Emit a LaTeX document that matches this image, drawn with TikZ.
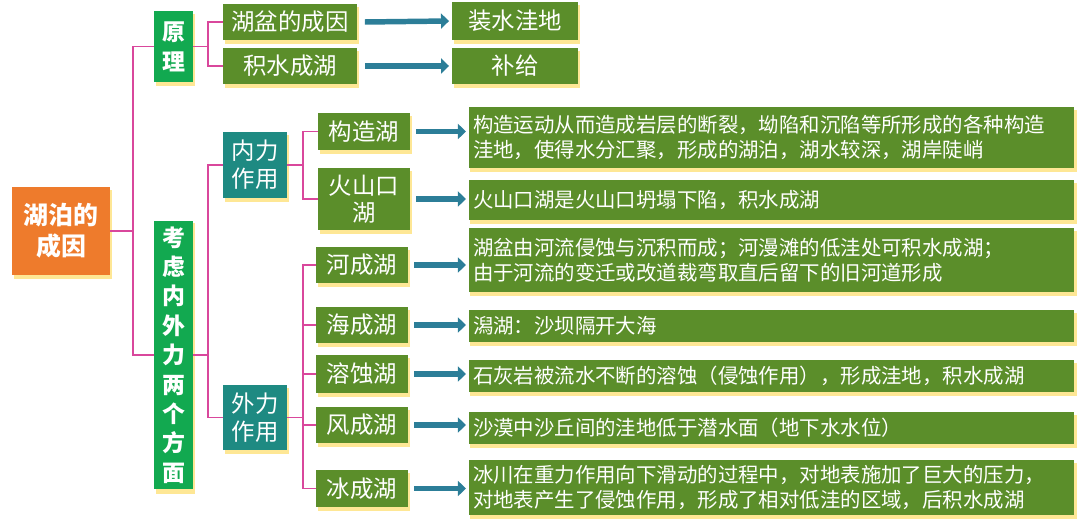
\documentclass[tikz,border=0pt]{standalone}
\usepackage{fontspec}
\setmainfont{Noto Sans CJK SC}
\usetikzlibrary{arrows.meta}
\definecolor{olive}{HTML}{5B8E2A}
\definecolor{brgreen}{HTML}{12A950}
\definecolor{tealb}{HTML}{1E8A82}
\definecolor{orng}{HTML}{EE7B2C}
\definecolor{pinkl}{HTML}{D9479C}
\definecolor{arr}{HTML}{2C7E98}
\tikzset{
 bx/.style={draw=none,inner sep=0pt,text=white,align=center},
 ol/.style={bx,fill=olive},
 ln/.style={draw=pinkl,line width=1.3pt},
 ar/.style={draw=arr,line width=5.5pt,-{Triangle[length=8bp,width=15bp]}},
}
\newcommand{\boxat}[6]{\node[#1,minimum width=#4-#2,minimum height=#5-#3] (#6) at ({(#2+#4)/2},{(#3+#5)/2})}
\begin{document}
\begin{tikzpicture}[x=1bp,y=-1bp]
\useasboundingbox (0,0) rectangle (1080,525);
% shadows
\foreach \a/\b/\c/\d in {12/187/110/275,154/11/193/82,154/220/193/490,223/4/357/40,223/48/357/84,452/2/578/40,452/48/578/84,223/132/287/198,223/385/287/450,318/113/410/150,318/168/410/230,316/247/408/283,316/307/408/343,316/355/408/393,316/407/408/443,316/470/408/507,468/107/1075/168,468/180/1075/220,468/228/1075/292,468/310/1075/342,468/360/1075/392,468/412/1075/444,468/460/1075/515}
 \fill[yellow!60!orange!40] (\a+2,\b+3) rectangle (\c+2,\d+4);
\boxat{bx,fill=orng,font=\bfseries\fontsize{25}{31}\selectfont}{12}{187}{110}{275}{root} {湖泊的\\成因};
\boxat{bx,fill=brgreen,font=\bfseries\fontsize{23}{30}\selectfont}{154}{11}{193}{82}{yl} {原\\理};
\boxat{bx,fill=brgreen,font=\bfseries\fontsize{23}{29.5}\selectfont}{154}{220}{193}{490}{kl} {考\\虑\\内\\外\\力\\两\\个\\方\\面};
\tikzset{lb/.style={ol,font=\fontsize{23.5}{27}\selectfont}}
\boxat{lb}{223}{4}{357}{40}{hp} {湖盆的成因};
\boxat{lb}{223}{48}{357}{84}{js} {积水成湖};
\boxat{lb}{452}{2}{578}{40}{zs} {装水洼地};
\boxat{lb}{452}{48}{578}{84}{bg} {补给};
\boxat{bx,fill=tealb,font=\fontsize{23.5}{28}\selectfont}{223}{132}{287}{198}{nl} {内力\\作用};
\boxat{bx,fill=tealb,font=\fontsize{23.5}{28}\selectfont}{223}{385}{287}{450}{wl} {外力\\作用};
\boxat{lb}{318}{113}{410}{150}{gz} {构造湖};
\boxat{lb}{318}{168}{410}{230}{hs} {火山口\\湖};
\boxat{lb}{316}{247}{408}{283}{hc} {河成湖};
\boxat{lb}{316}{307}{408}{343}{hh} {海成湖};
\boxat{lb}{316}{355}{408}{393}{rs} {溶蚀湖};
\boxat{lb}{316}{407}{408}{443}{fc} {风成湖};
\boxat{lb}{316}{470}{408}{507}{bc} {冰成湖};
\tikzset{dsc/.style={ol,align=left,text width=597bp,font=\fontsize{20.5}{25.5}\selectfont}}
\boxat{dsc}{468}{107}{1075}{168}{d1} {构造运动从而造成岩层的断裂，坳陷和沉陷等所形成的各种构造\\洼地，使得水分汇聚，形成的湖泊，湖水较深，湖岸陡峭};
\boxat{dsc}{468}{180}{1075}{220}{d2} {火山口湖是火山口坍塌下陷，积水成湖};
\boxat{dsc}{468}{228}{1075}{292}{d3} {湖盆由河流侵蚀与沉积而成；河漫滩的低洼处可积水成湖；\\由于河流的变迁或改道裁弯取直后留下的旧河道形成};
\boxat{dsc}{468}{310}{1075}{342}{d4} {潟湖：沙坝隔开大海};
\boxat{dsc}{468}{360}{1075}{392}{d5} {石灰岩被流水不断的溶蚀（侵蚀作用），形成洼地，积水成湖};
\boxat{dsc}{468}{412}{1075}{444}{d6} {沙漠中沙丘间的洼地低于潜水面（地下水水位）};
\boxat{dsc}{468}{460}{1075}{515}{d7} {冰川在重力作用向下滑动的过程中，对地表施加了巨大的压力，\\对地表产生了侵蚀作用，形成了相对低洼的区域，后积水成湖};
% connectors
\draw[ln] (root.east) -- ++(23,0) coordinate (c1);
\draw[ln] (c1) |- (yl.west);
\draw[ln] (c1) |- (kl.west);
\draw[ln] (yl.east) -- ++(15,0) coordinate (c2);
\draw[ln] (c2) |- (hp.west);
\draw[ln] (c2) |- (js.west);
\draw[ln] (kl.east) -- ++(15,0) coordinate (c3);
\draw[ln] (c3) |- (nl.west);
\draw[ln] (c3) |- (wl.west);
\draw[ln] (nl.east) -- ++(16,0) coordinate (c4);
\draw[ln] (c4) |- (gz.west);
\draw[ln] (c4) |- (hs.west);
\draw[ln] (wl.east) -- ++(16,0) coordinate (c5);
\foreach \t in {hc,hh,rs,fc,bc} \draw[ln] (c5) |- (\t.west);
\draw[ar] ([xshift=8bp]hp.east) -- ([xshift=-3bp]zs.west);
\draw[ar] ([xshift=8bp]js.east) -- ([xshift=-3bp]bg.west);
\draw[ar] ([xshift=6bp]gz.east) -- ([xshift=-3bp]gz.east-|d1.west);
\foreach \s/\d in {hs/d2,hc/d3,hh/d4,rs/d5,fc/d6,bc/d7}
 \draw[ar] ([xshift=6bp]\s.east) -- ([xshift=-3bp]\s.east-|\d.west);
\end{tikzpicture}
\end{document}
